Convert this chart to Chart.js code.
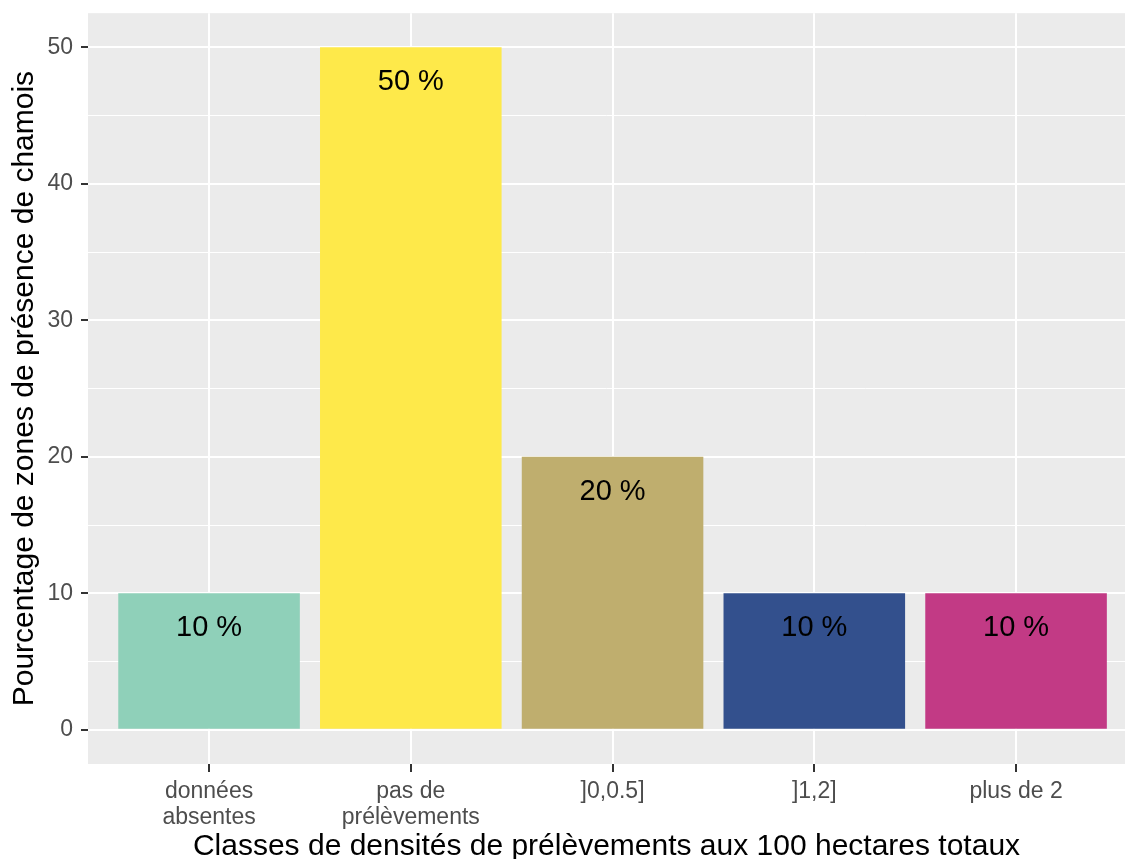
<!DOCTYPE html>
<html>
<head>
<meta charset="utf-8">
<script src="https://cdn.jsdelivr.net/npm/chart.js@4/dist/chart.umd.min.js"></script>
<style>
  body { margin: 0; background: #ffffff; }
  canvas { display: block; }
</style>
</head>
<body>
<canvas id="chart" width="1125" height="859"></canvas>
<script>
// Chart data
const categories = ['données\nabsentes', 'pas de\nprélèvements', ']0,0.5]', ']1,2]', 'plus de 2'];
const values = [10, 50, 20, 10, 10];
const barColors = ['#8FD0B9', '#FEE94A', '#BFAE6E', '#33508D', '#C23A85'];
const yTicks = [0, 5, 10, 15, 20, 25, 30, 35, 40, 45, 50];
const yLabelTicks = [0, 10, 20, 30, 40, 50];

const FONT = '"Liberation Sans", Arial, sans-serif';

// Grey ggplot panel behind the grid
const panelBackground = {
    id: 'panelBackground',
    beforeDraw(chart) {
        const { ctx, chartArea } = chart;
        ctx.save();
        ctx.fillStyle = '#ffffff';
        ctx.fillRect(0, 0, chart.width, chart.height);
        ctx.fillStyle = '#EBEBEB';
        ctx.fillRect(chartArea.left, chartArea.top, chartArea.right - chartArea.left, chartArea.bottom - chartArea.top);
        ctx.restore();
    }
};

// "xx %" labels inside the top of each bar
const barLabels = {
    id: 'barLabels',
    afterDatasetsDraw(chart) {
        const ctx = chart.ctx;
        const meta = chart.getDatasetMeta(0);
        ctx.save();
        ctx.font = `29px ${FONT}`;
        ctx.fillStyle = '#000000';
        ctx.textAlign = 'center';
        ctx.textBaseline = 'middle';
        meta.data.forEach((bar, i) => {
            ctx.fillText(`${values[i]} %`, bar.x, bar.y + 35);
        });
        ctx.restore();
    }
};

new Chart(document.getElementById('chart'), {
    type: 'bar',
    data: {
        datasets: [{
            data: values.map((v, i) => ({ x: i + 1, y: v })),
            backgroundColor: barColors,
            borderWidth: 0,
            barPercentage: 0.9,
            categoryPercentage: 1
        }]
    },
    options: {
        responsive: false,
        animation: false,
        layout: { padding: { top: 13, left: 0, right: 0, bottom: 0 } },
        plugins: {
            legend: { display: false },
            tooltip: { enabled: false }
        },
        scales: {
            x: {
                type: 'linear',
                min: 0.4,
                max: 5.54,
                offset: false,
                afterBuildTicks: scale => {
                    scale.ticks = categories.map((c, i) => ({ value: i + 1 }));
                },
                afterFit: scale => { scale.height = 95; },
                border: { display: false },
                grid: {
                    offset: false,
                    color: '#ffffff',
                    lineWidth: 2,
                    tickColor: '#333333',
                    tickWidth: 2,
                    tickLength: 8
                },
                ticks: {
                    autoSkip: false,
                    maxRotation: 0,
                    padding: 6,
                    color: '#4D4D4D',
                    font: { family: FONT, size: 23, lineHeight: 1.15 },
                    callback: value => categories[value - 1].split('\n')
                },
                title: {
                    display: true,
                    text: 'Classes de densités de prélèvements aux 100 hectares totaux',
                    color: '#000000',
                    font: { family: FONT, size: 30, lineHeight: 0.8 },
                    padding: { top: 0, bottom: 0 }
                }
            },
            y: {
                min: -2.5,
                max: 52.5,
                afterBuildTicks: scale => {
                    scale.ticks = yTicks.map(v => ({ value: v }));
                },
                afterFit: scale => { scale.width = 88; },
                border: { display: false },
                grid: {
                    color: '#ffffff',
                    lineWidth: ctx => (yLabelTicks.includes(ctx.tick.value) ? 2 : 1),
                    tickColor: ctx => (yLabelTicks.includes(ctx.tick.value) ? '#333333' : 'rgba(0,0,0,0)'),
                    tickWidth: 2,
                    tickLength: 7
                },
                ticks: {
                    padding: 8,
                    color: '#4D4D4D',
                    font: { family: FONT, size: 23, lineHeight: 0.45 },
                    callback: value => (yLabelTicks.includes(value) ? value : '')
                },
                title: {
                    display: true,
                    text: 'Pourcentage de zones de présence de chamois',
                    color: '#000000',
                    font: { family: FONT, size: 30 },
                    padding: { top: 7, bottom: 0 }
                }
            }
        }
    },
    plugins: [panelBackground, barLabels]
});
</script>
</body>
</html>
